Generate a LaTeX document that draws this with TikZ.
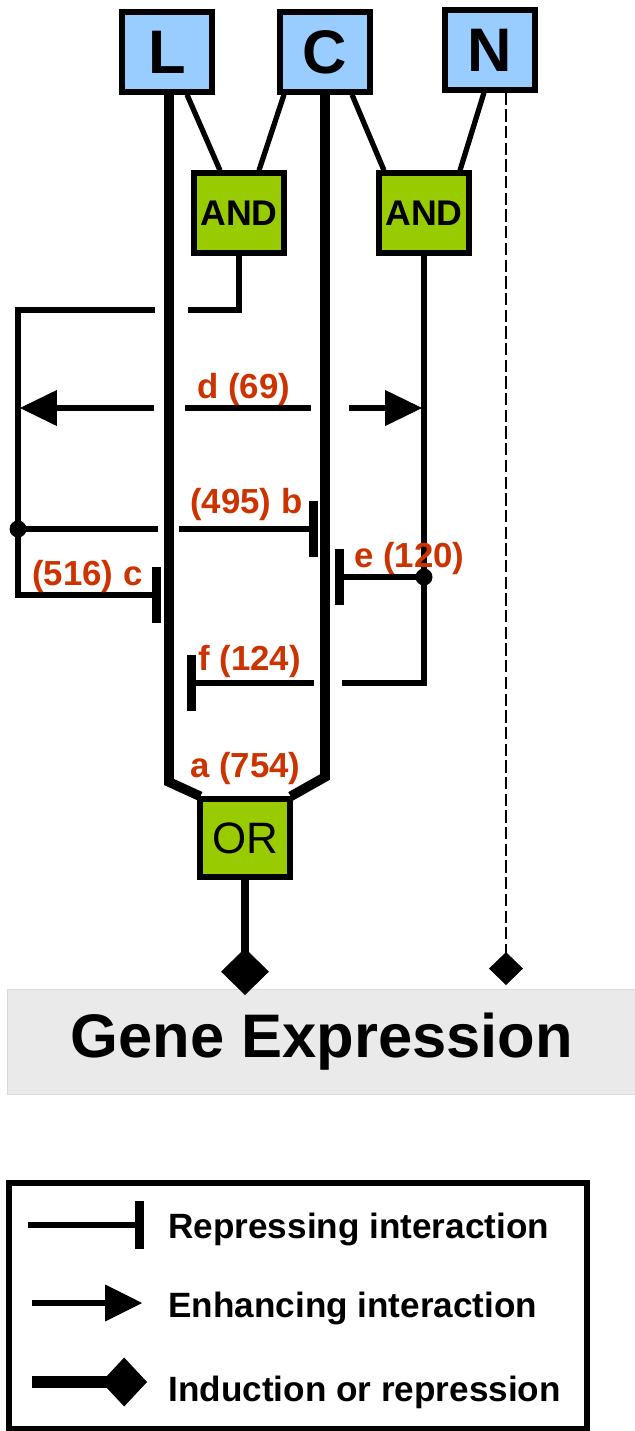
\documentclass[tikz,border=0pt]{standalone}
\usepackage{fontspec}
\setmainfont{Liberation Sans}
\usetikzlibrary{arrows.meta,calc}
\definecolor{inblue}{HTML}{99CCFF}
\definecolor{gategreen}{HTML}{99CC00}
\definecolor{labred}{HTML}{CC3300}
\definecolor{genegray}{HTML}{EAEAEA}
\def\fs#1{\fontsize{#1}{#1}\selectfont}
\tikzset{
	inbox/.style={draw=black, line width=3pt, fill=inblue, minimum width=1.8cm, minimum height=1.6cm, inner sep=0pt, font=\fs{35}\bfseries},
	gate/.style={draw=black, line width=3pt, fill=gategreen, minimum width=1.8cm, minimum height=1.6cm, inner sep=0pt, font=\fs{20.3}\bfseries},
	orgate/.style={gate, minimum height=1.56cm, font=\fs{25}},
	genebox/.style={draw=black!15, line width=0.5pt, fill=genegray, minimum width=12.6cm, minimum height=2.1cm, inner sep=0pt, font=\fs{35}\bfseries},
	lab/.style={anchor=base west, inner sep=0pt, text=labred, font=\fs{19.8}\bfseries},
	legtext/.style={anchor=base west, inner sep=0pt, font=\fs{20}\bfseries},
	mainline/.style={line width=5.5pt, line join=miter},
	link/.style={line width=3pt, line join=miter},
	outline/.style={line width=4.5pt},
	dashline/.style={line width=1.2pt, dash pattern=on 7pt off 2.5pt},
	repress/.style={-{Bar[width=32pt, line width=5pt]}},
	enhance/.style={-{Triangle[length=21pt, width=20.4pt, line width=0.5pt]}},
	induce/.style={-{Diamond[length=26.6pt, width=27.2pt, line width=0.5pt]}},
	tinydiamond/.style={-{Diamond[length=18.7pt, width=19.3pt, line width=0.5pt]}},
}

\begin{document}
\begin{tikzpicture}[x=0.02cm, y=-0.02cm]
	\useasboundingbox (0,0) rectangle (635,1431);
	%%%%% START %%%%%

	\node[inbox] (L) at (167,52) {L};
	\node[inbox] (C) at (325,52) {C};
	\node[inbox] (N) at (490,50) {N};

	\node[gate] (and1) at (239,213) {AND};
	\node[gate] (and2) at (424,213) {AND};
	\node[orgate] (or) at (245,838) {OR};

	\node[genebox] (gene) at (322,1042) {Gene Expression};

	% inputs to the gates
	\draw[link] ($(L.south)+(20,0)$) -- ($(and1.north)+(-19,0)$);
	\draw[link] ($(C.south)+(-41,0)$) -- ($(and1.north)+(20,0)$);
	\draw[link] ($(C.south)+(27,0)$) -- ($(and2.north)+(-40,0)$);
	\draw[link] ($(N.south)+(-6,0)$) -- ($(and2.north)+(36,0)$);

	% the two long lines into OR
	\coordinate (Lbot) at (169,782);
	\coordinate (Cbot) at (325,777);
	\draw[mainline] (L.south -| Lbot) -- (Lbot) -- ($(or.north west)+(3,0)$);
	\draw[mainline] (C.south -| Cbot) -- (Cbot) -- ($(or.north east)+(-2,0)$);

	% feedback from the first AND
	\coordinate (fbtop) at (18,310);
	\coordinate (jb) at (18,529);
	\coordinate (fbbot) at (18,595);
	\coordinate (gapA) at (188,310);
	\coordinate (gapB) at (155,310);
	\coordinate (cend) at (161,595);
	\draw[link] (and1.south) |- (gapA);
	\draw[link,repress] (gapB) -| (fbbot) -- (cend);

	% b
	\coordinate (bgap1) at (158,529);
	\coordinate (bgap2) at (179,529);
	\coordinate (bend) at (318,529);
	\draw[link] (jb) -- (bgap1);
	\draw[link,repress] (bgap2) -- (bend);
	\fill (jb) circle (0.17cm);

	% d
	\draw[link,enhance] (154,408) -- (20,408);
	\draw[link] (185,408) -- (311,408);
	\draw[link,enhance] (349,408) -- (422,408);

	% second AND down to f
	\coordinate (je) at (424,577);
	\coordinate (fcorner) at (424,683);
	\coordinate (fgap1) at (342,683);
	\coordinate (fgap2) at (314,683);
	\coordinate (fend) at (187,683);
	\draw[link] (and2.south) -- (fcorner) -- (fgap1);
	\draw[link,repress] (fgap2) -- (fend);

	% e
	\coordinate (eend) at (335,577);
	\draw[link,repress] (je) -- (eend);
	\fill (je) circle (0.17cm);

	% outputs
	\coordinate (ortip) at (245,995);
	\coordinate (ntip) at (506,985);
	\draw[outline,induce] (or.south) -- (ortip);
	\draw[dashline,tinydiamond] (N.south -| ntip) -- (ntip);

	% labels
	\node[lab] (ld) at (197,398) {d (69)};
	\node[lab] (lb) at (190,513) {(495) b};
	\node[lab] (lc) at (32,585) {(516) c};
	\node[lab] (le) at (354,567) {e (120)};
	\node[lab] (lf) at (198,670) {f (124)};
	\node[lab] (la) at (190,777) {a (754)};

	%%%%% LEGEND %%%%%
	\draw[line width=3pt] (9,1183) rectangle (587,1429);

	\node[legtext] (t1) at (168,1238) {Repressing interaction};
	\node[legtext] (t2) at (168,1317) {Enhancing interaction};
	\node[legtext] (t3) at (168,1401) {Induction or repression};

	\draw[link,-{Bar[width=27pt, line width=5pt]}] (28,1225) -- (144,1225);
	\draw[link,-{Triangle[length=21pt, width=21pt, line width=0.5pt]}] (32,1303) -- (142,1303);
	\draw[line width=6.5pt,-{Diamond[length=26pt, width=27.8pt, line width=0.5pt]}] (32,1382) -- (147,1382);

	%%%%% END %%%%%
\end{tikzpicture}
\end{document}
